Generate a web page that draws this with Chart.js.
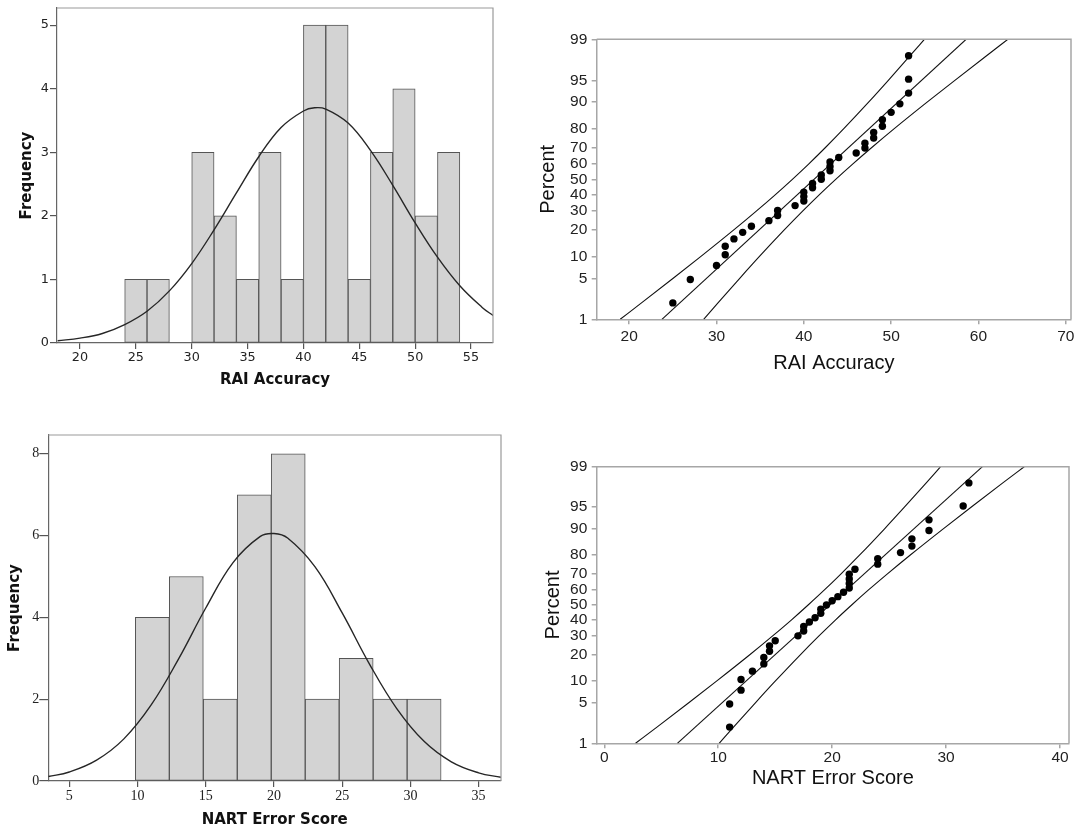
<!DOCTYPE html>
<html>
<head>
<meta charset="utf-8">
<script src="https://cdn.jsdelivr.net/npm/chart.js@4.4.1/dist/chart.umd.min.js"></script>
<style>
  html, body { margin: 0; padding: 0; background: #fff; }
  #wrap { position: relative; width: 1075px; height: 832px; overflow: hidden; }
  canvas { position: absolute; }
</style>
</head>
<body>
<div id="wrap">
  <canvas id="raiHist" width="510" height="400" style="left:0;top:0"></canvas>
  <canvas id="raiProb" width="545" height="410" style="left:530px;top:0"></canvas>
  <canvas id="nartHist" width="520" height="412" style="left:0;top:420px"></canvas>
  <canvas id="nartProb" width="545" height="412" style="left:530px;top:420px"></canvas>
</div>
<script>
/* ===============================
   DATA
================================ */

// RAI Accuracy histogram (bins of 2)
const raiBinWidth = 2;
const raiBinStarts = [24, 26, 28, 30, 32, 34, 36, 38, 40, 42, 44, 46, 48, 50, 52];
const raiCounts = [1, 1, 0, 3, 2, 1, 3, 1, 5, 5, 1, 3, 4, 2, 3];
const raiCurveX = [18, 20, 22, 24, 26, 28, 30, 32, 34, 36, 38, 40, 41, 42, 44, 46, 48, 50, 52, 54, 56, 57];
const raiCurveY = [0.035, 0.076, 0.15, 0.29, 0.50, 0.82, 1.25, 1.78, 2.36, 2.93, 3.39, 3.65, 3.70, 3.68, 3.46, 3.03, 2.48, 1.89, 1.35, 0.90, 0.56, 0.43];
const raiHistXTicks = [20, 25, 30, 35, 40, 45, 50, 55];
const raiHistYTicks = [0, 1, 2, 3, 4, 5];

// NART Error Score histogram (bins of ~2.5)
const nartBinWidth = 2.49;
const nartBinStarts = [9.84, 12.33, 14.82, 17.31, 19.80, 22.29, 24.78, 27.27, 29.76];
const nartCounts = [4, 5, 2, 7, 8, 2, 3, 2, 2];
const nartCurveX = [3.46, 5, 7, 9, 11, 13, 15, 17, 19, 20, 21, 23, 25, 27, 29, 31, 33, 35, 36.64];
const nartCurveY = [0.11, 0.22, 0.51, 1.03, 1.86, 2.98, 4.23, 5.34, 5.98, 6.05, 5.94, 5.24, 4.11, 2.86, 1.77, 0.97, 0.47, 0.20, 0.09];
const nartHistXTicks = [5, 10, 15, 20, 25, 30, 35];
const nartHistYTicks = [0, 2, 4, 6, 8];

// probability plots: same 35 plotting positions (percent)
const plotPercents = [2.0, 4.8, 7.6, 10.5, 13.3, 16.1, 18.9, 21.8, 24.6, 27.4, 30.2, 33.1, 35.9, 38.7, 41.5,
  44.4, 47.2, 50.0, 52.8, 55.6, 58.5, 61.3, 64.1, 66.9, 69.8, 72.6, 75.4, 78.2, 81.1, 83.9, 86.7, 89.5, 92.4, 95.2, 98.0];
const percentTicks = [1, 5, 10, 20, 30, 40, 50, 60, 70, 80, 90, 95, 99];
const fitPercents = [1, 99];
const bandPercents = [1, 2, 5, 10, 20, 30, 40, 50, 60, 70, 80, 90, 95, 98, 99];

const raiScores = [25, 27, 30, 31, 31, 32, 33, 34, 36, 37, 37, 39, 40, 40, 40, 41, 41, 42, 42, 43, 43, 43,
  44, 46, 47, 47, 48, 48, 49, 49, 50, 51, 52, 52, 52];
const raiFitX = [23.75, 58.59];
const raiLowerBand = [18.97, 21.41, 25.04, 28.22, 31.98, 34.59, 36.75, 38.69, 40.55, 42.45, 44.58, 47.42, 49.68, 52.17, 53.81];
const raiUpperBand = [28.53, 30.17, 32.66, 34.92, 37.76, 39.89, 41.79, 43.65, 45.59, 47.75, 50.36, 54.12, 57.30, 60.93, 63.37];
const raiProbXTicks = [20, 30, 40, 50, 60, 70];

const nartScores = [11, 11, 12, 12, 13, 14, 14, 14.5, 14.5, 15, 17, 17.5, 17.5, 18, 18.5, 19, 19, 19.5, 20, 20.5,
  21, 21.5, 21.5, 21.5, 21.5, 22, 24, 24, 26, 27, 27, 28.5, 28.5, 31.5, 32];
const nartFitX = [6.41, 33.19];
const nartLowerBand = [2.74, 4.62, 7.41, 9.85, 12.74, 14.75, 16.41, 17.89, 19.32, 20.78, 22.42, 24.60, 26.34, 28.26, 29.52];
const nartUpperBand = [10.08, 11.34, 13.26, 15.00, 17.18, 18.82, 20.28, 21.71, 23.19, 24.85, 26.86, 29.75, 32.19, 34.98, 36.86];
const nartProbXTicks = [0, 10, 20, 30, 40];

/* ===============================
   NORMAL PROBABILITY SCALE
================================ */

// inverse normal CDF (Acklam)
function probit(p) {
  const a = [-39.69683028665376, 220.9460984245205, -275.9285104469687, 138.3577518672690, -30.66479806614716, 2.506628277459239];
  const b = [-54.47609879822406, 161.5858368580409, -155.6989798598866, 66.80131188771972, -13.28068155288572];
  const c = [-0.007784894002430293, -0.3223964580411365, -2.400758277161838, -2.549732539343734, 4.374664141464968, 2.938163982698783];
  const d = [0.007784695709041462, 0.3224671290700398, 2.445134137142996, 3.754408661907416];
  const tail = q => (((((c[0] * q + c[1]) * q + c[2]) * q + c[3]) * q + c[4]) * q + c[5]) /
    ((((d[0] * q + d[1]) * q + d[2]) * q + d[3]) * q + 1);
  if (p < 0.02425) return tail(Math.sqrt(-2 * Math.log(p)));
  if (p > 0.97575) return -tail(Math.sqrt(-2 * Math.log(1 - p)));
  const q = p - 0.5, r = q * q;
  return (((((a[0] * r + a[1]) * r + a[2]) * r + a[3]) * r + a[4]) * r + a[5]) * q /
    (((((b[0] * r + b[1]) * r + b[2]) * r + b[3]) * r + b[4]) * r + 1);
}

class ProbitScale extends Chart.Scale {
  determineDataLimits() {
    this.min = this.options.min;
    this.max = this.options.max;
  }
  buildTicks() {
    return percentTicks.map(v => ({ value: v }));
  }
  getLabelForValue(v) {
    return String(v);
  }
  configure() {
    super.configure();
    this._zMin = probit(this.min / 100);
    this._zRange = probit(this.max / 100) - this._zMin;
  }
  getPixelForValue(v) {
    return this.getPixelForDecimal((probit(v / 100) - this._zMin) / this._zRange);
  }
  getValueForPixel(px) {
    // rough inverse, only used for interaction
    const z = this._zMin + this.getDecimalForPixel(px) * this._zRange;
    return 100 / (1 + Math.exp(-1.702 * z));
  }
}
ProbitScale.id = "probit";
ProbitScale.defaults = {};
Chart.register(ProbitScale);

/* ===============================
   SHARED BITS
================================ */

// top + right edges of the plot frame
const framePlugin = {
  id: "frame",
  afterDatasetsDraw(chart, args, opts) {
    const { ctx, chartArea: a } = chart;
    ctx.save();
    ctx.strokeStyle = opts.color;
    ctx.lineWidth = opts.width;
    ctx.beginPath();
    ctx.moveTo(a.left, a.top);
    ctx.lineTo(a.right, a.top);
    ctx.lineTo(a.right, a.bottom);
    ctx.stroke();
    ctx.restore();
  }
};

const fixedTicks = list => scale => {
  scale.ticks = list.map(v => ({ value: v }));
};

const fixedSize = (prop, size) => scale => {
  scale[prop] = size;
  scale.paddingLeft = 0;
  scale.paddingRight = 0;
  scale.paddingTop = 0;
  scale.paddingBottom = 0;
};

const toPoints = (xs, ys) => xs.map((x, i) => ({ x, y: ys[i] }));

/* ===============================
   HISTOGRAMS
================================ */

function drawHistogram(id, h) {
  new Chart(document.getElementById(id), {
    type: "bar",
    data: {
      datasets: [
        {
          type: "line",
          data: toPoints(h.curveX, h.curveY),
          borderColor: "#262626",
          borderWidth: 1.4,
          pointRadius: 0,
          tension: 0.4,
          fill: false,
          order: 0
        },
        {
          type: "bar",
          data: h.binStarts.map((s, i) => ({ x: s + h.binWidth / 2, y: h.counts[i] })),
          backgroundColor: "#d3d3d3",
          borderColor: "#555",
          borderWidth: 1,
          borderSkipped: false,
          barPercentage: 1,
          categoryPercentage: 1,
          order: 1
        }
      ]
    },
    options: {
      responsive: false,
      animation: false,
      events: [],
      layout: { padding: h.padding },
      plugins: {
        legend: { display: false },
        tooltip: { enabled: false },
        frame: { color: "#9a9a9a", width: 1.2 }
      },
      scales: {
        x: {
          type: "linear",
          offset: false,
          min: h.xMin,
          max: h.xMax,
          afterBuildTicks: fixedTicks(h.xTicks),
          afterFit: fixedSize("height", h.xAxisHeight),
          grid: { offset: false, drawOnChartArea: false, tickLength: 6, color: "#555", lineWidth: 1.2 },
          border: { color: "#666", width: 1.2 },
          ticks: { autoSkip: false, maxRotation: 0, padding: h.xTickPad, color: "#222", font: h.tickFont },
          title: {
            display: true,
            text: h.xTitle,
            color: "#111",
            font: { family: "DejaVu Sans", size: 15, weight: "bold" },
            padding: { top: 0, bottom: h.xTitlePad }
          }
        },
        y: {
          type: "linear",
          min: 0,
          max: h.yMax,
          afterBuildTicks: fixedTicks(h.yTicks),
          afterFit: fixedSize("width", h.yAxisWidth),
          grid: { drawOnChartArea: false, tickLength: h.yTickLen, color: "#555", lineWidth: 1.2 },
          border: { color: "#666", width: 1.2 },
          ticks: { autoSkip: false, padding: h.yTickPad, color: "#222", font: h.tickFont },
          title: {
            display: true,
            text: "Frequency",
            color: "#111",
            font: { family: "DejaVu Sans", size: 15, weight: "bold" },
            padding: { top: h.yTitlePad, bottom: 0 }
          }
        }
      }
    },
    plugins: [framePlugin]
  });
}

drawHistogram("raiHist", {
  binWidth: raiBinWidth, binStarts: raiBinStarts, counts: raiCounts,
  curveX: raiCurveX, curveY: raiCurveY,
  xMin: 17.94, xMax: 56.97, yMax: 5.27,
  xTicks: raiHistXTicks, yTicks: raiHistYTicks,
  xTitle: "RAI Accuracy",
  tickFont: { family: "DejaVu Sans", size: 12.8 },
  padding: { left: 0, top: 8, right: 17, bottom: 0 },
  xAxisHeight: 57, yAxisWidth: 57,
  xTickPad: 1, yTickPad: 1, yTickLen: 7,
  xTitlePad: 11, yTitlePad: 18
});

drawHistogram("nartHist", {
  binWidth: nartBinWidth, binStarts: nartBinStarts, counts: nartCounts,
  curveX: nartCurveX, curveY: nartCurveY,
  xMin: 3.46, xMax: 36.64, yMax: 8.46,
  xTicks: nartHistXTicks, yTicks: nartHistYTicks,
  xTitle: "NART Error Score",
  tickFont: { family: "Liberation Serif", size: 14 },
  padding: { left: 0, top: 15, right: 19, bottom: 0 },
  xAxisHeight: 51, yAxisWidth: 48.3,
  xTickPad: 0.9, yTickPad: 0, yTickLen: 9,
  xTitlePad: 3, yTitlePad: 6
});

/* ===============================
   NORMAL PROBABILITY PLOTS
================================ */

function drawProbPlot(id, p) {
  const lineStyle = {
    showLine: true,
    pointRadius: 0,
    borderColor: "#111",
    borderWidth: 1.1,
    fill: false
  };

  new Chart(document.getElementById(id), {
    type: "scatter",
    data: {
      datasets: [
        {
          data: toPoints(p.scores, plotPercents),
          pointRadius: 3.7,
          pointBackgroundColor: "#000",
          pointBorderWidth: 0
        },
        { ...lineStyle, data: toPoints(p.fitX, fitPercents) },
        { ...lineStyle, cubicInterpolationMode: "monotone", data: toPoints(p.lowerBand, bandPercents) },
        { ...lineStyle, cubicInterpolationMode: "monotone", data: toPoints(p.upperBand, bandPercents) }
      ]
    },
    options: {
      responsive: false,
      animation: false,
      events: [],
      layout: { padding: p.padding },
      plugins: {
        legend: { display: false },
        tooltip: { enabled: false },
        frame: { color: "#a6a6a6", width: 1.5 }
      },
      scales: {
        x: {
          type: "linear",
          min: p.xMin,
          max: p.xMax,
          afterBuildTicks: fixedTicks(p.xTicks),
          afterFit: fixedSize("height", p.xAxisHeight),
          grid: { drawOnChartArea: false, tickLength: 5, color: "#a6a6a6", lineWidth: 1.5 },
          border: { color: "#a6a6a6", width: 1.5 },
          ticks: { autoSkip: false, maxRotation: 0, padding: p.xTickPad, color: "#222", font: { family: "Liberation Sans", size: 15.5 } },
          title: {
            display: true,
            text: p.xTitle,
            color: "#111",
            font: { family: "Liberation Sans", size: 20 },
            padding: { top: 0, bottom: p.xTitlePad }
          }
        },
        y: {
          type: "probit",
          min: 1,
          max: 99,
          afterFit: fixedSize("width", 66.7),
          grid: { drawOnChartArea: false, tickLength: 5, color: "#a6a6a6", lineWidth: 1.5 },
          border: { color: "#a6a6a6", width: 1.5 },
          ticks: { autoSkip: false, padding: 4.4, color: "#222", font: { family: "Liberation Sans", size: 15.5 } },
          title: {
            display: true,
            text: "Percent",
            color: "#111",
            font: { family: "Liberation Sans", size: 20 },
            padding: { top: p.yTitlePad, bottom: 0 }
          }
        }
      }
    },
    plugins: [framePlugin]
  });
}

drawProbPlot("raiProb", {
  scores: raiScores, fitX: raiFitX, lowerBand: raiLowerBand, upperBand: raiUpperBand,
  xMin: 16.28, xMax: 70.6, xTicks: raiProbXTicks,
  xTitle: "RAI Accuracy",
  padding: { left: 0, top: 39.3, right: 2, bottom: 0 },
  xAxisHeight: 90.7, xTickPad: 3.4, xTitlePad: 34.7, yTitlePad: 6.3
});

drawProbPlot("nartProb", {
  scores: nartScores, fitX: nartFitX, lowerBand: nartLowerBand, upperBand: nartUpperBand,
  xMin: -0.67, xMax: 40.79, xTicks: nartProbXTicks,
  xTitle: "NART Error Score",
  padding: { left: 0, top: 46.7, right: 6, bottom: 0 },
  xAxisHeight: 88.7, xTickPad: 0, xTitlePad: 41.7, yTitlePad: 11.6
});
</script>
</body>
</html>
